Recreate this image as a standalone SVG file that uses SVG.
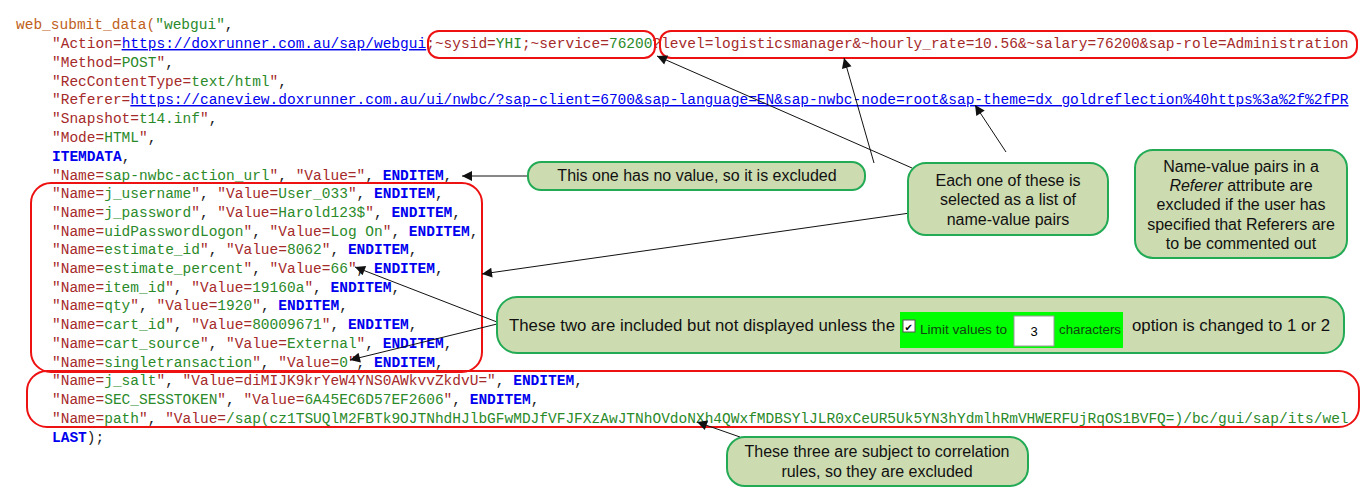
<svg xmlns="http://www.w3.org/2000/svg" width="1370" height="496" viewBox="0 0 1370 496">
<style>
.c{font-family:"Liberation Mono",monospace;font-size:14.5px;fill:#a52a2a}
.g{fill:#2a8a2a}.k{fill:#0000ee;font-weight:bold}.p{fill:#222}.u{fill:#0000ee;text-decoration:underline}.o{fill:#c0601a}
.box{fill:none;stroke:#ee1111;stroke-width:2}
.call{fill:#cddbb0;stroke:#22aa55;stroke-width:2}
.t{font-family:"Liberation Sans",Arial,sans-serif;font-size:16px;fill:#111;text-anchor:middle}
.ts{font-family:"Liberation Sans",Arial,sans-serif;font-size:16px;fill:#111}
.w{font-family:"Liberation Sans",Arial,sans-serif;font-size:12px;fill:#114411}
.ar{stroke:#111;stroke-width:1;fill:none;marker-end:url(#ah)}
</style>
<defs><marker id="ah" viewBox="0 0 10 10" refX="10" refY="5" markerWidth="14" markerHeight="10" markerUnits="userSpaceOnUse" orient="auto"><path d="M0,0L10,5L0,10z" fill="#111"/></marker></defs>
<rect width="1370" height="496" fill="#fff"/>
<g id="code">
<text class="c" x="16" y="29"><tspan class="o">web_submit_data(</tspan><tspan class="g">"webgui"</tspan><tspan class="p">,</tspan></text>
<text class="c" x="52" y="48">"Action=<tspan class="u">https://doxrunner.com.au/sap/webgui</tspan>;~sysid=<tspan class="g">YHI</tspan>;~service=<tspan class="g">76200</tspan>?level=logisticsmanager&amp;~hourly_rate=10.56&amp;~salary=76200&amp;sap-role=Administration</text>
<text class="c" x="52" y="67">"Method=<tspan class="g">POST</tspan>"<tspan class="p">,</tspan></text>
<text class="c" x="52" y="86">"RecContentType=<tspan class="g">text/html</tspan>"<tspan class="p">,</tspan></text>
<text class="c" x="52" y="104">"Referer=<tspan class="u">https://caneview.doxrunner.com.au/ui/nwbc/?sap-client=6700&amp;sap-language=EN&amp;sap-nwbc-node=root&amp;sap-theme=dx_goldreflection%40https%3a%2f%2fPR</tspan></text>
<text class="c" x="52" y="123">"Snapshot=<tspan class="g">t14.inf</tspan>"<tspan class="p">,</tspan></text>
<text class="c" x="52" y="142">"Mode=<tspan class="g">HTML</tspan>"<tspan class="p">,</tspan></text>
<text class="c k" x="52" y="161">ITEMDATA<tspan class="p" font-weight="normal">,</tspan></text>
<text class="c" x="52" y="180">"Name=<tspan class="g">sap-nwbc-action_url</tspan>"<tspan class="p">,</tspan> "Value="<tspan class="p">,</tspan> <tspan class="k">ENDITEM</tspan><tspan class="p">,</tspan></text>
<text class="c" x="52" y="198">"Name=<tspan class="g">j_username</tspan>"<tspan class="p">,</tspan> "Value=<tspan class="g">User_033</tspan>"<tspan class="p">,</tspan> <tspan class="k">ENDITEM</tspan><tspan class="p">,</tspan></text>
<text class="c" x="52" y="217">"Name=<tspan class="g">j_password</tspan>"<tspan class="p">,</tspan> "Value=<tspan class="g">Harold123$</tspan>"<tspan class="p">,</tspan> <tspan class="k">ENDITEM</tspan><tspan class="p">,</tspan></text>
<text class="c" x="52" y="236">"Name=<tspan class="g">uidPasswordLogon</tspan>"<tspan class="p">,</tspan> "Value=<tspan class="g">Log On</tspan>"<tspan class="p">,</tspan> <tspan class="k">ENDITEM</tspan><tspan class="p">,</tspan></text>
<text class="c" x="52" y="254">"Name=<tspan class="g">estimate_id</tspan>"<tspan class="p">,</tspan> "Value=<tspan class="g">8062</tspan>"<tspan class="p">,</tspan> <tspan class="k">ENDITEM</tspan><tspan class="p">,</tspan></text>
<text class="c" x="52" y="273">"Name=<tspan class="g">estimate_percent</tspan>"<tspan class="p">,</tspan> "Value=<tspan class="g">66</tspan>"<tspan class="p">,</tspan> <tspan class="k">ENDITEM</tspan><tspan class="p">,</tspan></text>
<text class="c" x="52" y="292">"Name=<tspan class="g">item_id</tspan>"<tspan class="p">,</tspan> "Value=<tspan class="g">19160a</tspan>"<tspan class="p">,</tspan> <tspan class="k">ENDITEM</tspan><tspan class="p">,</tspan></text>
<text class="c" x="52" y="310">"Name=<tspan class="g">qty</tspan>"<tspan class="p">,</tspan> "Value=<tspan class="g">1920</tspan>"<tspan class="p">,</tspan> <tspan class="k">ENDITEM</tspan><tspan class="p">,</tspan></text>
<text class="c" x="52" y="329">"Name=<tspan class="g">cart_id</tspan>"<tspan class="p">,</tspan> "Value=<tspan class="g">80009671</tspan>"<tspan class="p">,</tspan> <tspan class="k">ENDITEM</tspan><tspan class="p">,</tspan></text>
<text class="c" x="52" y="348">"Name=<tspan class="g">cart_source</tspan>"<tspan class="p">,</tspan> "Value=<tspan class="g">External</tspan>"<tspan class="p">,</tspan> <tspan class="k">ENDITEM</tspan><tspan class="p">,</tspan></text>
<text class="c" x="52" y="367">"Name=<tspan class="g">singletransaction</tspan>"<tspan class="p">,</tspan> "Value=<tspan class="g">0</tspan>"<tspan class="p">,</tspan> <tspan class="k">ENDITEM</tspan><tspan class="p">,</tspan></text>
<text class="c" x="52" y="385">"Name=<tspan class="g">j_salt</tspan>"<tspan class="p">,</tspan> "Value=diMIJK9krYeW4YNS0AWkvvZkdvU="<tspan class="p">,</tspan> <tspan class="k">ENDITEM</tspan><tspan class="p">,</tspan></text>
<text class="c" x="52" y="404">"Name=<tspan class="g">SEC_SESSTOKEN</tspan>"<tspan class="p">,</tspan> "Value=<tspan class="g">6A45EC6D57EF2606</tspan>"<tspan class="p">,</tspan> <tspan class="k">ENDITEM</tspan><tspan class="p">,</tspan></text>
<text class="c" x="52" y="423">"Name=<tspan class="g">path</tspan>"<tspan class="p">,</tspan> "Value=<tspan class="g">/sap(cz1TSUQlM2FBTk9OJTNhdHJlbGFwMDJfVFJFXzAwJTNhOVdoNXh4QWxfMDBSYlJLR0xCeUR5Uk5YN3hYdmlhRmVHWERFUjRqOS1BVFQ=)/bc/gui/sap/its/wel</tspan></text>
<text class="c k" x="52" y="442">LAST<tspan class="p" font-weight="normal">);</tspan></text>
</g>
<g id="highlights">
<rect class="box" x="428" y="31" width="227" height="27" rx="11"/>
<rect class="box" x="660" y="31" width="697" height="27" rx="11"/>
<rect class="box" x="31" y="183" width="451" height="189" rx="20"/>
<rect class="box" x="27" y="371" width="1332" height="56" rx="20"/>
</g>
<g id="connectors">
<line class="ar" x1="528" y1="176" x2="462" y2="176"/>
<line class="ar" x1="912" y1="168" x2="657" y2="56"/>
<line class="ar" x1="874" y1="163" x2="844" y2="58"/>
<line class="ar" x1="910" y1="213" x2="482" y2="274"/>
<line class="ar" x1="1006" y1="152" x2="975" y2="105"/>
<line class="ar" x1="497" y1="322" x2="355" y2="267"/>
<line class="ar" x1="497" y1="324" x2="350" y2="360"/>
<line class="ar" x1="740" y1="437" x2="697" y2="422"/>
</g>
<g id="note-novalue">
<rect class="call" x="528" y="162" width="337" height="28" rx="13"/>
<text class="t" x="697" y="181">This one has no value, so it is excluded</text>
</g>
<g id="note-each">
<rect class="call" x="908" y="163" width="200" height="72" rx="18"/>
<text class="t" x="1008" y="186">Each one of these is</text>
<text class="t" x="1008" y="205">selected as a list of</text>
<text class="t" x="1008" y="225">name-value pairs</text>
</g>
<g id="note-referer">
<rect class="call" x="1135" y="150" width="212" height="108" rx="18"/>
<text class="t" x="1241" y="172">Name-value pairs in a</text>
<text class="t" x="1241" y="191"><tspan font-style="italic">Referer</tspan> attribute are</text>
<text class="t" x="1241" y="210">excluded if the user has</text>
<text class="t" x="1241" y="230">specified that Referers are</text>
<text class="t" x="1241" y="249">to be commented out</text>
</g>
<g id="note-twoincluded">
<rect class="call" x="497" y="297" width="847" height="56" rx="20"/>
<text class="ts" x="509" y="331" textLength="386" lengthAdjust="spacingAndGlyphs">These two are included but not displayed unless the</text>
<rect x="900" y="312" width="223" height="36" fill="#00ff00"/>
<rect x="903" y="320" width="12" height="12" fill="#fff" stroke="#555"/>
<text x="904.5" y="330.5" font-family="DejaVu Sans,sans-serif" font-size="10" fill="#000">✔</text>
<text class="w" x="920" y="334" textLength="87" lengthAdjust="spacingAndGlyphs">Limit values to</text>
<rect x="1014" y="316" width="40" height="30" fill="#fff" stroke="#999"/>
<text x="1034" y="336" font-family="Liberation Sans,sans-serif" font-size="13" fill="#000" text-anchor="middle">3</text>
<text class="w" x="1059" y="334" textLength="62" lengthAdjust="spacingAndGlyphs">characters</text>
<text class="ts" x="1132" y="331" textLength="198" lengthAdjust="spacingAndGlyphs">option is changed to 1 or 2</text>
</g>
<g id="note-correlation">
<rect class="call" x="727" y="437" width="301" height="49" rx="18"/>
<text class="t" x="877" y="457">These three are subject to correlation</text>
<text class="t" x="877" y="477">rules, so they are excluded</text>
</g>
</svg>
